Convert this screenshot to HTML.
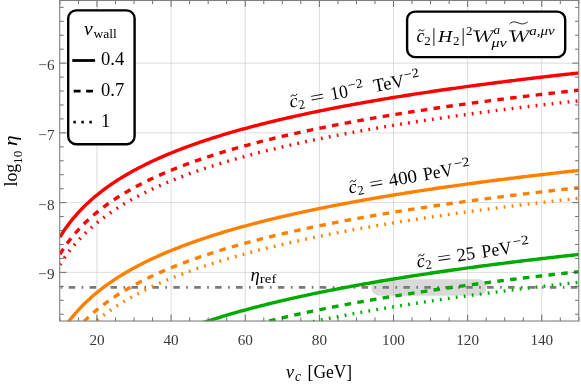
<!DOCTYPE html>
<html><head><meta charset="utf-8"><title>plot</title>
<style>
html,body{margin:0;padding:0;background:#fff;}
svg{display:block;will-change:transform;}
text{font-family:"Liberation Serif",serif;fill:#000;}
.tk{font-size:15.2px;fill:#383838;}
.it{font-style:italic;}
</style></head><body>
<svg width="581" height="389" viewBox="0 0 581 389">
<rect width="581" height="389" fill="#fff"/>
<defs><clipPath id="cp"><rect x="59.90" y="0.35" width="518.95" height="320.85"/></clipPath></defs>
<g stroke="#d0d0d0" stroke-width="0.75" fill="none"><line x1="96.97" y1="0.35" x2="96.97" y2="321.20"/><line x1="171.10" y1="0.35" x2="171.10" y2="321.20"/><line x1="245.24" y1="0.35" x2="245.24" y2="321.20"/><line x1="319.38" y1="0.35" x2="319.38" y2="321.20"/><line x1="393.51" y1="0.35" x2="393.51" y2="321.20"/><line x1="467.65" y1="0.35" x2="467.65" y2="321.20"/><line x1="541.78" y1="0.35" x2="541.78" y2="321.20"/><line x1="59.90" y1="63.13" x2="578.85" y2="63.13"/><line x1="59.90" y1="132.88" x2="578.85" y2="132.88"/><line x1="59.90" y1="202.63" x2="578.85" y2="202.63"/><line x1="59.90" y1="272.38" x2="578.85" y2="272.38"/></g>
<g clip-path="url(#cp)" fill="none">
<rect x="371.3" y="279.35" width="115.2" height="16.4" rx="8.2" ry="8.2" fill="#808080" fill-opacity="0.3"/>
<line x1="59.90" y1="287.35" x2="578.85" y2="287.35" stroke="#7a7a7a" stroke-width="2.6" stroke-dasharray="1.7 6.3 6.5 6.42" stroke-dashoffset="-0.8"/>
<path d="M59.90 237.01 L61.63 234.25 L63.36 231.61 L65.09 229.07 L66.82 226.64 L68.55 224.31 L70.28 222.06 L72.01 219.89 L73.74 217.79 L75.47 215.77 L77.20 213.81 L78.93 211.91 L80.66 210.07 L82.39 208.29 L84.12 206.55 L85.85 204.86 L87.58 203.22 L89.31 201.63 L91.04 200.07 L92.77 198.55 L94.50 197.07 L96.23 195.63 L97.96 194.22 L99.69 192.84 L101.42 191.49 L103.15 190.17 L104.88 188.88 L106.61 187.61 L108.34 186.38 L110.07 185.16 L111.80 183.97 L113.52 182.81 L115.25 181.66 L116.98 180.54 L118.71 179.43 L120.44 178.35 L122.17 177.29 L123.90 176.24 L125.63 175.21 L127.36 174.20 L129.09 173.21 L130.82 172.23 L132.55 171.27 L134.28 170.32 L136.01 169.39 L137.74 168.47 L139.47 167.56 L141.20 166.67 L142.93 165.79 L144.66 164.92 L146.39 164.07 L148.12 163.23 L149.85 162.40 L151.58 161.58 L153.31 160.77 L155.04 159.97 L156.77 159.18 L158.50 158.41 L160.23 157.64 L161.96 156.88 L163.69 156.13 L165.42 155.39 L167.15 154.66 L168.88 153.94 L170.61 153.23 L172.34 152.52 L174.07 151.82 L175.80 151.14 L177.53 150.45 L179.26 149.78 L180.99 149.11 L182.72 148.46 L184.45 147.80 L186.18 147.16 L187.91 146.52 L189.64 145.89 L191.37 145.26 L193.10 144.64 L194.83 144.03 L196.56 143.43 L198.29 142.83 L200.02 142.23 L201.75 141.64 L203.48 141.06 L205.21 140.48 L206.94 139.91 L208.67 139.34 L210.40 138.78 L212.13 138.23 L213.86 137.68 L215.59 137.13 L217.31 136.59 L219.04 136.05 L220.77 135.52 L222.50 134.99 L224.23 134.47 L225.96 133.95 L227.69 133.44 L229.42 132.93 L231.15 132.42 L232.88 131.92 L234.61 131.43 L236.34 130.93 L238.07 130.44 L239.80 129.96 L241.53 129.48 L243.26 129.00 L244.99 128.53 L246.72 128.06 L248.45 127.59 L250.18 127.13 L251.91 126.67 L253.64 126.21 L255.37 125.76 L257.10 125.31 L258.83 124.87 L260.56 124.42 L262.29 123.98 L264.02 123.55 L265.75 123.12 L267.48 122.69 L269.21 122.26 L270.94 121.83 L272.67 121.41 L274.40 121.00 L276.13 120.58 L277.86 120.17 L279.59 119.76 L281.32 119.35 L283.05 118.95 L284.78 118.55 L286.51 118.15 L288.24 117.75 L289.97 117.36 L291.70 116.97 L293.43 116.58 L295.16 116.19 L296.89 115.81 L298.62 115.43 L300.35 115.05 L302.08 114.67 L303.81 114.30 L305.54 113.93 L307.27 113.56 L309.00 113.19 L310.73 112.82 L312.46 112.46 L314.19 112.10 L315.92 111.74 L317.65 111.39 L319.38 111.03 L321.10 110.68 L322.83 110.33 L324.56 109.98 L326.29 109.63 L328.02 109.29 L329.75 108.95 L331.48 108.61 L333.21 108.27 L334.94 107.93 L336.67 107.60 L338.40 107.26 L340.13 106.93 L341.86 106.60 L343.59 106.27 L345.32 105.95 L347.05 105.62 L348.78 105.30 L350.51 104.98 L352.24 104.66 L353.97 104.35 L355.70 104.03 L357.43 103.72 L359.16 103.40 L360.89 103.09 L362.62 102.78 L364.35 102.48 L366.08 102.17 L367.81 101.86 L369.54 101.56 L371.27 101.26 L373.00 100.96 L374.73 100.66 L376.46 100.36 L378.19 100.07 L379.92 99.77 L381.65 99.48 L383.38 99.19 L385.11 98.90 L386.84 98.61 L388.57 98.32 L390.30 98.04 L392.03 97.75 L393.76 97.47 L395.49 97.19 L397.22 96.91 L398.95 96.63 L400.68 96.35 L402.41 96.07 L404.14 95.80 L405.87 95.53 L407.60 95.25 L409.33 94.98 L411.06 94.71 L412.79 94.44 L414.52 94.17 L416.25 93.91 L417.98 93.64 L419.71 93.37 L421.44 93.11 L423.17 92.85 L424.89 92.59 L426.62 92.33 L428.35 92.07 L430.08 91.81 L431.81 91.55 L433.54 91.30 L435.27 91.04 L437.00 90.79 L438.73 90.54 L440.46 90.29 L442.19 90.04 L443.92 89.79 L445.65 89.54 L447.38 89.29 L449.11 89.04 L450.84 88.80 L452.57 88.55 L454.30 88.31 L456.03 88.07 L457.76 87.83 L459.49 87.59 L461.22 87.35 L462.95 87.11 L464.68 86.87 L466.41 86.63 L468.14 86.40 L469.87 86.16 L471.60 85.93 L473.33 85.70 L475.06 85.46 L476.79 85.23 L478.52 85.00 L480.25 84.77 L481.98 84.54 L483.71 84.32 L485.44 84.09 L487.17 83.86 L488.90 83.64 L490.63 83.41 L492.36 83.19 L494.09 82.97 L495.82 82.75 L497.55 82.52 L499.28 82.30 L501.01 82.08 L502.74 81.87 L504.47 81.65 L506.20 81.43 L507.93 81.21 L509.66 81.00 L511.39 80.78 L513.12 80.57 L514.85 80.36 L516.58 80.14 L518.31 79.93 L520.04 79.72 L521.77 79.51 L523.50 79.30 L525.23 79.09 L526.96 78.88 L528.68 78.68 L530.41 78.47 L532.14 78.26 L533.87 78.06 L535.60 77.85 L537.33 77.65 L539.06 77.45 L540.79 77.24 L542.52 77.04 L544.25 76.84 L545.98 76.64 L547.71 76.44 L549.44 76.24 L551.17 76.04 L552.90 75.84 L554.63 75.64 L556.36 75.45 L558.09 75.25 L559.82 75.06 L561.55 74.86 L563.28 74.67 L565.01 74.47 L566.74 74.28 L568.47 74.09 L570.20 73.90 L571.93 73.71 L573.66 73.52 L575.39 73.33 L577.12 73.14 L578.85 72.95" stroke="#ff0000" stroke-width="3.4"/>
<path d="M59.90 254.24 L61.63 251.48 L63.36 248.83 L65.09 246.30 L66.82 243.87 L68.55 241.53 L70.28 239.28 L72.01 237.11 L73.74 235.02 L75.47 233.00 L77.20 231.04 L78.93 229.14 L80.66 227.30 L82.39 225.51 L84.12 223.78 L85.85 222.09 L87.58 220.45 L89.31 218.85 L91.04 217.30 L92.77 215.78 L94.50 214.30 L96.23 212.86 L97.96 211.44 L99.69 210.06 L101.42 208.72 L103.15 207.40 L104.88 206.11 L106.61 204.84 L108.34 203.60 L110.07 202.39 L111.80 201.20 L113.52 200.03 L115.25 198.89 L116.98 197.77 L118.71 196.66 L120.44 195.58 L122.17 194.52 L123.90 193.47 L125.63 192.44 L127.36 191.43 L129.09 190.44 L130.82 189.46 L132.55 188.49 L134.28 187.55 L136.01 186.61 L137.74 185.70 L139.47 184.79 L141.20 183.90 L142.93 183.02 L144.66 182.15 L146.39 181.30 L148.12 180.46 L149.85 179.63 L151.58 178.81 L153.31 178.00 L155.04 177.20 L156.77 176.41 L158.50 175.63 L160.23 174.87 L161.96 174.11 L163.69 173.36 L165.42 172.62 L167.15 171.89 L168.88 171.17 L170.61 170.45 L172.34 169.75 L174.07 169.05 L175.80 168.36 L177.53 167.68 L179.26 167.01 L180.99 166.34 L182.72 165.68 L184.45 165.03 L186.18 164.39 L187.91 163.75 L189.64 163.12 L191.37 162.49 L193.10 161.87 L194.83 161.26 L196.56 160.65 L198.29 160.05 L200.02 159.46 L201.75 158.87 L203.48 158.29 L205.21 157.71 L206.94 157.14 L208.67 156.57 L210.40 156.01 L212.13 155.45 L213.86 154.90 L215.59 154.36 L217.31 153.82 L219.04 153.28 L220.77 152.75 L222.50 152.22 L224.23 151.70 L225.96 151.18 L227.69 150.67 L229.42 150.16 L231.15 149.65 L232.88 149.15 L234.61 148.65 L236.34 148.16 L238.07 147.67 L239.80 147.19 L241.53 146.71 L243.26 146.23 L244.99 145.76 L246.72 145.29 L248.45 144.82 L250.18 144.36 L251.91 143.90 L253.64 143.44 L255.37 142.99 L257.10 142.54 L258.83 142.09 L260.56 141.65 L262.29 141.21 L264.02 140.78 L265.75 140.34 L267.48 139.91 L269.21 139.49 L270.94 139.06 L272.67 138.64 L274.40 138.22 L276.13 137.81 L277.86 137.40 L279.59 136.99 L281.32 136.58 L283.05 136.18 L284.78 135.77 L286.51 135.38 L288.24 134.98 L289.97 134.59 L291.70 134.19 L293.43 133.81 L295.16 133.42 L296.89 133.04 L298.62 132.66 L300.35 132.28 L302.08 131.90 L303.81 131.53 L305.54 131.15 L307.27 130.78 L309.00 130.42 L310.73 130.05 L312.46 129.69 L314.19 129.33 L315.92 128.97 L317.65 128.61 L319.38 128.26 L321.10 127.91 L322.83 127.56 L324.56 127.21 L326.29 126.86 L328.02 126.52 L329.75 126.17 L331.48 125.83 L333.21 125.50 L334.94 125.16 L336.67 124.82 L338.40 124.49 L340.13 124.16 L341.86 123.83 L343.59 123.50 L345.32 123.18 L347.05 122.85 L348.78 122.53 L350.51 122.21 L352.24 121.89 L353.97 121.57 L355.70 121.26 L357.43 120.94 L359.16 120.63 L360.89 120.32 L362.62 120.01 L364.35 119.70 L366.08 119.40 L367.81 119.09 L369.54 118.79 L371.27 118.49 L373.00 118.19 L374.73 117.89 L376.46 117.59 L378.19 117.30 L379.92 117.00 L381.65 116.71 L383.38 116.42 L385.11 116.13 L386.84 115.84 L388.57 115.55 L390.30 115.27 L392.03 114.98 L393.76 114.70 L395.49 114.42 L397.22 114.14 L398.95 113.86 L400.68 113.58 L402.41 113.30 L404.14 113.03 L405.87 112.75 L407.60 112.48 L409.33 112.21 L411.06 111.94 L412.79 111.67 L414.52 111.40 L416.25 111.13 L417.98 110.87 L419.71 110.60 L421.44 110.34 L423.17 110.08 L424.89 109.82 L426.62 109.56 L428.35 109.30 L430.08 109.04 L431.81 108.78 L433.54 108.53 L435.27 108.27 L437.00 108.02 L438.73 107.77 L440.46 107.51 L442.19 107.26 L443.92 107.01 L445.65 106.77 L447.38 106.52 L449.11 106.27 L450.84 106.03 L452.57 105.78 L454.30 105.54 L456.03 105.30 L457.76 105.06 L459.49 104.82 L461.22 104.58 L462.95 104.34 L464.68 104.10 L466.41 103.86 L468.14 103.63 L469.87 103.39 L471.60 103.16 L473.33 102.92 L475.06 102.69 L476.79 102.46 L478.52 102.23 L480.25 102.00 L481.98 101.77 L483.71 101.55 L485.44 101.32 L487.17 101.09 L488.90 100.87 L490.63 100.64 L492.36 100.42 L494.09 100.20 L495.82 99.97 L497.55 99.75 L499.28 99.53 L501.01 99.31 L502.74 99.09 L504.47 98.88 L506.20 98.66 L507.93 98.44 L509.66 98.23 L511.39 98.01 L513.12 97.80 L514.85 97.58 L516.58 97.37 L518.31 97.16 L520.04 96.95 L521.77 96.74 L523.50 96.53 L525.23 96.32 L526.96 96.11 L528.68 95.90 L530.41 95.70 L532.14 95.49 L533.87 95.29 L535.60 95.08 L537.33 94.88 L539.06 94.67 L540.79 94.47 L542.52 94.27 L544.25 94.07 L545.98 93.87 L547.71 93.67 L549.44 93.47 L551.17 93.27 L552.90 93.07 L554.63 92.87 L556.36 92.68 L558.09 92.48 L559.82 92.28 L561.55 92.09 L563.28 91.90 L565.01 91.70 L566.74 91.51 L568.47 91.32 L570.20 91.13 L571.93 90.93 L573.66 90.74 L575.39 90.55 L577.12 90.36 L578.85 90.18" stroke="#ff0000" stroke-width="3.4" stroke-dasharray="6.55 6.325"/>
<path d="M59.90 264.84 L61.63 262.08 L63.36 259.44 L65.09 256.90 L66.82 254.47 L68.55 252.14 L70.28 249.89 L72.01 247.72 L73.74 245.62 L75.47 243.60 L77.20 241.64 L78.93 239.74 L80.66 237.90 L82.39 236.12 L84.12 234.38 L85.85 232.69 L87.58 231.05 L89.31 229.46 L91.04 227.90 L92.77 226.38 L94.50 224.90 L96.23 223.46 L97.96 222.05 L99.69 220.67 L101.42 219.32 L103.15 218.00 L104.88 216.71 L106.61 215.44 L108.34 214.21 L110.07 212.99 L111.80 211.80 L113.52 210.64 L115.25 209.49 L116.98 208.37 L118.71 207.26 L120.44 206.18 L122.17 205.12 L123.90 204.07 L125.63 203.04 L127.36 202.03 L129.09 201.04 L130.82 200.06 L132.55 199.10 L134.28 198.15 L136.01 197.22 L137.74 196.30 L139.47 195.39 L141.20 194.50 L142.93 193.62 L144.66 192.75 L146.39 191.90 L148.12 191.06 L149.85 190.23 L151.58 189.41 L153.31 188.60 L155.04 187.80 L156.77 187.01 L158.50 186.24 L160.23 185.47 L161.96 184.71 L163.69 183.96 L165.42 183.22 L167.15 182.49 L168.88 181.77 L170.61 181.06 L172.34 180.35 L174.07 179.65 L175.80 178.97 L177.53 178.28 L179.26 177.61 L180.99 176.94 L182.72 176.29 L184.45 175.63 L186.18 174.99 L187.91 174.35 L189.64 173.72 L191.37 173.09 L193.10 172.48 L194.83 171.86 L196.56 171.26 L198.29 170.66 L200.02 170.06 L201.75 169.47 L203.48 168.89 L205.21 168.31 L206.94 167.74 L208.67 167.17 L210.40 166.61 L212.13 166.06 L213.86 165.51 L215.59 164.96 L217.31 164.42 L219.04 163.88 L220.77 163.35 L222.50 162.82 L224.23 162.30 L225.96 161.78 L227.69 161.27 L229.42 160.76 L231.15 160.25 L232.88 159.75 L234.61 159.26 L236.34 158.76 L238.07 158.27 L239.80 157.79 L241.53 157.31 L243.26 156.83 L244.99 156.36 L246.72 155.89 L248.45 155.42 L250.18 154.96 L251.91 154.50 L253.64 154.04 L255.37 153.59 L257.10 153.14 L258.83 152.70 L260.56 152.25 L262.29 151.81 L264.02 151.38 L265.75 150.95 L267.48 150.52 L269.21 150.09 L270.94 149.66 L272.67 149.24 L274.40 148.83 L276.13 148.41 L277.86 148.00 L279.59 147.59 L281.32 147.18 L283.05 146.78 L284.78 146.38 L286.51 145.98 L288.24 145.58 L289.97 145.19 L291.70 144.80 L293.43 144.41 L295.16 144.02 L296.89 143.64 L298.62 143.26 L300.35 142.88 L302.08 142.50 L303.81 142.13 L305.54 141.76 L307.27 141.39 L309.00 141.02 L310.73 140.65 L312.46 140.29 L314.19 139.93 L315.92 139.57 L317.65 139.22 L319.38 138.86 L321.10 138.51 L322.83 138.16 L324.56 137.81 L326.29 137.46 L328.02 137.12 L329.75 136.78 L331.48 136.44 L333.21 136.10 L334.94 135.76 L336.67 135.43 L338.40 135.09 L340.13 134.76 L341.86 134.43 L343.59 134.10 L345.32 133.78 L347.05 133.45 L348.78 133.13 L350.51 132.81 L352.24 132.49 L353.97 132.18 L355.70 131.86 L357.43 131.55 L359.16 131.23 L360.89 130.92 L362.62 130.61 L364.35 130.31 L366.08 130.00 L367.81 129.70 L369.54 129.39 L371.27 129.09 L373.00 128.79 L374.73 128.49 L376.46 128.20 L378.19 127.90 L379.92 127.61 L381.65 127.31 L383.38 127.02 L385.11 126.73 L386.84 126.44 L388.57 126.16 L390.30 125.87 L392.03 125.58 L393.76 125.30 L395.49 125.02 L397.22 124.74 L398.95 124.46 L400.68 124.18 L402.41 123.91 L404.14 123.63 L405.87 123.36 L407.60 123.08 L409.33 122.81 L411.06 122.54 L412.79 122.27 L414.52 122.00 L416.25 121.74 L417.98 121.47 L419.71 121.21 L421.44 120.94 L423.17 120.68 L424.89 120.42 L426.62 120.16 L428.35 119.90 L430.08 119.64 L431.81 119.38 L433.54 119.13 L435.27 118.87 L437.00 118.62 L438.73 118.37 L440.46 118.12 L442.19 117.87 L443.92 117.62 L445.65 117.37 L447.38 117.12 L449.11 116.87 L450.84 116.63 L452.57 116.38 L454.30 116.14 L456.03 115.90 L457.76 115.66 L459.49 115.42 L461.22 115.18 L462.95 114.94 L464.68 114.70 L466.41 114.46 L468.14 114.23 L469.87 113.99 L471.60 113.76 L473.33 113.53 L475.06 113.29 L476.79 113.06 L478.52 112.83 L480.25 112.60 L481.98 112.37 L483.71 112.15 L485.44 111.92 L487.17 111.69 L488.90 111.47 L490.63 111.24 L492.36 111.02 L494.09 110.80 L495.82 110.58 L497.55 110.35 L499.28 110.13 L501.01 109.91 L502.74 109.70 L504.47 109.48 L506.20 109.26 L507.93 109.04 L509.66 108.83 L511.39 108.61 L513.12 108.40 L514.85 108.19 L516.58 107.97 L518.31 107.76 L520.04 107.55 L521.77 107.34 L523.50 107.13 L525.23 106.92 L526.96 106.71 L528.68 106.51 L530.41 106.30 L532.14 106.09 L533.87 105.89 L535.60 105.68 L537.33 105.48 L539.06 105.28 L540.79 105.07 L542.52 104.87 L544.25 104.67 L545.98 104.47 L547.71 104.27 L549.44 104.07 L551.17 103.87 L552.90 103.67 L554.63 103.48 L556.36 103.28 L558.09 103.08 L559.82 102.89 L561.55 102.69 L563.28 102.50 L565.01 102.30 L566.74 102.11 L568.47 101.92 L570.20 101.73 L571.93 101.54 L573.66 101.35 L575.39 101.16 L577.12 100.97 L578.85 100.78" stroke="#ff0000" stroke-width="3.4" stroke-dasharray="1.8 6.246"/>
<path d="M59.90 334.52 L61.63 331.75 L63.36 329.11 L65.09 326.58 L66.82 324.15 L68.55 321.81 L70.28 319.56 L72.01 317.39 L73.74 315.30 L75.47 313.27 L77.20 311.31 L78.93 309.42 L80.66 307.58 L82.39 305.79 L84.12 304.06 L85.85 302.37 L87.58 300.73 L89.31 299.13 L91.04 297.58 L92.77 296.06 L94.50 294.58 L96.23 293.13 L97.96 291.72 L99.69 290.34 L101.42 288.99 L103.15 287.68 L104.88 286.38 L106.61 285.12 L108.34 283.88 L110.07 282.67 L111.80 281.48 L113.52 280.31 L115.25 279.17 L116.98 278.04 L118.71 276.94 L120.44 275.86 L122.17 274.79 L123.90 273.75 L125.63 272.72 L127.36 271.71 L129.09 270.71 L130.82 269.74 L132.55 268.77 L134.28 267.83 L136.01 266.89 L137.74 265.97 L139.47 265.07 L141.20 264.18 L142.93 263.30 L144.66 262.43 L146.39 261.58 L148.12 260.73 L149.85 259.90 L151.58 259.08 L153.31 258.28 L155.04 257.48 L156.77 256.69 L158.50 255.91 L160.23 255.14 L161.96 254.39 L163.69 253.64 L165.42 252.90 L167.15 252.17 L168.88 251.45 L170.61 250.73 L172.34 250.03 L174.07 249.33 L175.80 248.64 L177.53 247.96 L179.26 247.29 L180.99 246.62 L182.72 245.96 L184.45 245.31 L186.18 244.66 L187.91 244.03 L189.64 243.39 L191.37 242.77 L193.10 242.15 L194.83 241.54 L196.56 240.93 L198.29 240.33 L200.02 239.74 L201.75 239.15 L203.48 238.57 L205.21 237.99 L206.94 237.42 L208.67 236.85 L210.40 236.29 L212.13 235.73 L213.86 235.18 L215.59 234.64 L217.31 234.09 L219.04 233.56 L220.77 233.03 L222.50 232.50 L224.23 231.98 L225.96 231.46 L227.69 230.94 L229.42 230.44 L231.15 229.93 L232.88 229.43 L234.61 228.93 L236.34 228.44 L238.07 227.95 L239.80 227.47 L241.53 226.98 L243.26 226.51 L244.99 226.03 L246.72 225.56 L248.45 225.10 L250.18 224.63 L251.91 224.18 L253.64 223.72 L255.37 223.27 L257.10 222.82 L258.83 222.37 L260.56 221.93 L262.29 221.49 L264.02 221.05 L265.75 220.62 L267.48 220.19 L269.21 219.76 L270.94 219.34 L272.67 218.92 L274.40 218.50 L276.13 218.09 L277.86 217.67 L279.59 217.26 L281.32 216.86 L283.05 216.45 L284.78 216.05 L286.51 215.65 L288.24 215.26 L289.97 214.86 L291.70 214.47 L293.43 214.08 L295.16 213.70 L296.89 213.31 L298.62 212.93 L300.35 212.55 L302.08 212.18 L303.81 211.80 L305.54 211.43 L307.27 211.06 L309.00 210.70 L310.73 210.33 L312.46 209.97 L314.19 209.61 L315.92 209.25 L317.65 208.89 L319.38 208.54 L321.10 208.18 L322.83 207.83 L324.56 207.49 L326.29 207.14 L328.02 206.80 L329.75 206.45 L331.48 206.11 L333.21 205.77 L334.94 205.44 L336.67 205.10 L338.40 204.77 L340.13 204.44 L341.86 204.11 L343.59 203.78 L345.32 203.46 L347.05 203.13 L348.78 202.81 L350.51 202.49 L352.24 202.17 L353.97 201.85 L355.70 201.54 L357.43 201.22 L359.16 200.91 L360.89 200.60 L362.62 200.29 L364.35 199.98 L366.08 199.68 L367.81 199.37 L369.54 199.07 L371.27 198.77 L373.00 198.47 L374.73 198.17 L376.46 197.87 L378.19 197.58 L379.92 197.28 L381.65 196.99 L383.38 196.70 L385.11 196.41 L386.84 196.12 L388.57 195.83 L390.30 195.55 L392.03 195.26 L393.76 194.98 L395.49 194.70 L397.22 194.42 L398.95 194.14 L400.68 193.86 L402.41 193.58 L404.14 193.31 L405.87 193.03 L407.60 192.76 L409.33 192.49 L411.06 192.22 L412.79 191.95 L414.52 191.68 L416.25 191.41 L417.98 191.15 L419.71 190.88 L421.44 190.62 L423.17 190.36 L424.89 190.09 L426.62 189.83 L428.35 189.58 L430.08 189.32 L431.81 189.06 L433.54 188.80 L435.27 188.55 L437.00 188.30 L438.73 188.04 L440.46 187.79 L442.19 187.54 L443.92 187.29 L445.65 187.04 L447.38 186.80 L449.11 186.55 L450.84 186.31 L452.57 186.06 L454.30 185.82 L456.03 185.58 L457.76 185.33 L459.49 185.09 L461.22 184.85 L462.95 184.62 L464.68 184.38 L466.41 184.14 L468.14 183.91 L469.87 183.67 L471.60 183.44 L473.33 183.20 L475.06 182.97 L476.79 182.74 L478.52 182.51 L480.25 182.28 L481.98 182.05 L483.71 181.82 L485.44 181.60 L487.17 181.37 L488.90 181.14 L490.63 180.92 L492.36 180.70 L494.09 180.47 L495.82 180.25 L497.55 180.03 L499.28 179.81 L501.01 179.59 L502.74 179.37 L504.47 179.15 L506.20 178.94 L507.93 178.72 L509.66 178.50 L511.39 178.29 L513.12 178.08 L514.85 177.86 L516.58 177.65 L518.31 177.44 L520.04 177.23 L521.77 177.02 L523.50 176.81 L525.23 176.60 L526.96 176.39 L528.68 176.18 L530.41 175.98 L532.14 175.77 L533.87 175.56 L535.60 175.36 L537.33 175.15 L539.06 174.95 L540.79 174.75 L542.52 174.55 L544.25 174.35 L545.98 174.14 L547.71 173.94 L549.44 173.75 L551.17 173.55 L552.90 173.35 L554.63 173.15 L556.36 172.95 L558.09 172.76 L559.82 172.56 L561.55 172.37 L563.28 172.17 L565.01 171.98 L566.74 171.79 L568.47 171.59 L570.20 171.40 L571.93 171.21 L573.66 171.02 L575.39 170.83 L577.12 170.64 L578.85 170.45" stroke="#ff8000" stroke-width="3.4"/>
<path d="M59.90 351.75 L61.63 348.98 L63.36 346.34 L65.09 343.81 L66.82 341.38 L68.55 339.04 L70.28 336.79 L72.01 334.62 L73.74 332.53 L75.47 330.50 L77.20 328.54 L78.93 326.65 L80.66 324.81 L82.39 323.02 L84.12 321.29 L85.85 319.60 L87.58 317.96 L89.31 316.36 L91.04 314.80 L92.77 313.29 L94.50 311.81 L96.23 310.36 L97.96 308.95 L99.69 307.57 L101.42 306.22 L103.15 304.90 L104.88 303.61 L106.61 302.35 L108.34 301.11 L110.07 299.90 L111.80 298.71 L113.52 297.54 L115.25 296.40 L116.98 295.27 L118.71 294.17 L120.44 293.09 L122.17 292.02 L123.90 290.98 L125.63 289.95 L127.36 288.94 L129.09 287.94 L130.82 286.96 L132.55 286.00 L134.28 285.05 L136.01 284.12 L137.74 283.20 L139.47 282.30 L141.20 281.40 L142.93 280.53 L144.66 279.66 L146.39 278.80 L148.12 277.96 L149.85 277.13 L151.58 276.31 L153.31 275.50 L155.04 274.71 L156.77 273.92 L158.50 273.14 L160.23 272.37 L161.96 271.62 L163.69 270.87 L165.42 270.13 L167.15 269.40 L168.88 268.67 L170.61 267.96 L172.34 267.26 L174.07 266.56 L175.80 265.87 L177.53 265.19 L179.26 264.52 L180.99 263.85 L182.72 263.19 L184.45 262.54 L186.18 261.89 L187.91 261.25 L189.64 260.62 L191.37 260.00 L193.10 259.38 L194.83 258.77 L196.56 258.16 L198.29 257.56 L200.02 256.97 L201.75 256.38 L203.48 255.79 L205.21 255.22 L206.94 254.65 L208.67 254.08 L210.40 253.52 L212.13 252.96 L213.86 252.41 L215.59 251.86 L217.31 251.32 L219.04 250.79 L220.77 250.25 L222.50 249.73 L224.23 249.20 L225.96 248.69 L227.69 248.17 L229.42 247.66 L231.15 247.16 L232.88 246.66 L234.61 246.16 L236.34 245.67 L238.07 245.18 L239.80 244.69 L241.53 244.21 L243.26 243.74 L244.99 243.26 L246.72 242.79 L248.45 242.33 L250.18 241.86 L251.91 241.40 L253.64 240.95 L255.37 240.50 L257.10 240.05 L258.83 239.60 L260.56 239.16 L262.29 238.72 L264.02 238.28 L265.75 237.85 L267.48 237.42 L269.21 236.99 L270.94 236.57 L272.67 236.15 L274.40 235.73 L276.13 235.32 L277.86 234.90 L279.59 234.49 L281.32 234.09 L283.05 233.68 L284.78 233.28 L286.51 232.88 L288.24 232.49 L289.97 232.09 L291.70 231.70 L293.43 231.31 L295.16 230.93 L296.89 230.54 L298.62 230.16 L300.35 229.78 L302.08 229.41 L303.81 229.03 L305.54 228.66 L307.27 228.29 L309.00 227.92 L310.73 227.56 L312.46 227.20 L314.19 226.83 L315.92 226.48 L317.65 226.12 L319.38 225.77 L321.10 225.41 L322.83 225.06 L324.56 224.71 L326.29 224.37 L328.02 224.02 L329.75 223.68 L331.48 223.34 L333.21 223.00 L334.94 222.67 L336.67 222.33 L338.40 222.00 L340.13 221.67 L341.86 221.34 L343.59 221.01 L345.32 220.68 L347.05 220.36 L348.78 220.04 L350.51 219.72 L352.24 219.40 L353.97 219.08 L355.70 218.76 L357.43 218.45 L359.16 218.14 L360.89 217.83 L362.62 217.52 L364.35 217.21 L366.08 216.90 L367.81 216.60 L369.54 216.30 L371.27 215.99 L373.00 215.69 L374.73 215.40 L376.46 215.10 L378.19 214.80 L379.92 214.51 L381.65 214.22 L383.38 213.93 L385.11 213.64 L386.84 213.35 L388.57 213.06 L390.30 212.77 L392.03 212.49 L393.76 212.21 L395.49 211.92 L397.22 211.64 L398.95 211.36 L400.68 211.09 L402.41 210.81 L404.14 210.53 L405.87 210.26 L407.60 209.99 L409.33 209.72 L411.06 209.44 L412.79 209.18 L414.52 208.91 L416.25 208.64 L417.98 208.37 L419.71 208.11 L421.44 207.85 L423.17 207.58 L424.89 207.32 L426.62 207.06 L428.35 206.80 L430.08 206.55 L431.81 206.29 L433.54 206.03 L435.27 205.78 L437.00 205.52 L438.73 205.27 L440.46 205.02 L442.19 204.77 L443.92 204.52 L445.65 204.27 L447.38 204.03 L449.11 203.78 L450.84 203.53 L452.57 203.29 L454.30 203.05 L456.03 202.80 L457.76 202.56 L459.49 202.32 L461.22 202.08 L462.95 201.84 L464.68 201.61 L466.41 201.37 L468.14 201.13 L469.87 200.90 L471.60 200.66 L473.33 200.43 L475.06 200.20 L476.79 199.97 L478.52 199.74 L480.25 199.51 L481.98 199.28 L483.71 199.05 L485.44 198.82 L487.17 198.60 L488.90 198.37 L490.63 198.15 L492.36 197.92 L494.09 197.70 L495.82 197.48 L497.55 197.26 L499.28 197.04 L501.01 196.82 L502.74 196.60 L504.47 196.38 L506.20 196.17 L507.93 195.95 L509.66 195.73 L511.39 195.52 L513.12 195.30 L514.85 195.09 L516.58 194.88 L518.31 194.67 L520.04 194.45 L521.77 194.24 L523.50 194.03 L525.23 193.83 L526.96 193.62 L528.68 193.41 L530.41 193.20 L532.14 193.00 L533.87 192.79 L535.60 192.59 L537.33 192.38 L539.06 192.18 L540.79 191.98 L542.52 191.77 L544.25 191.57 L545.98 191.37 L547.71 191.17 L549.44 190.97 L551.17 190.77 L552.90 190.58 L554.63 190.38 L556.36 190.18 L558.09 189.99 L559.82 189.79 L561.55 189.60 L563.28 189.40 L565.01 189.21 L566.74 189.02 L568.47 188.82 L570.20 188.63 L571.93 188.44 L573.66 188.25 L575.39 188.06 L577.12 187.87 L578.85 187.68" stroke="#ff8000" stroke-width="3.4" stroke-dasharray="6.55 6.325"/>
<path d="M59.90 362.35 L61.63 359.59 L63.36 356.94 L65.09 354.41 L66.82 351.98 L68.55 349.64 L70.28 347.39 L72.01 345.22 L73.74 343.13 L75.47 341.10 L77.20 339.15 L78.93 337.25 L80.66 335.41 L82.39 333.62 L84.12 331.89 L85.85 330.20 L87.58 328.56 L89.31 326.96 L91.04 325.41 L92.77 323.89 L94.50 322.41 L96.23 320.96 L97.96 319.55 L99.69 318.17 L101.42 316.82 L103.15 315.51 L104.88 314.21 L106.61 312.95 L108.34 311.71 L110.07 310.50 L111.80 309.31 L113.52 308.14 L115.25 307.00 L116.98 305.87 L118.71 304.77 L120.44 303.69 L122.17 302.62 L123.90 301.58 L125.63 300.55 L127.36 299.54 L129.09 298.54 L130.82 297.57 L132.55 296.60 L134.28 295.66 L136.01 294.72 L137.74 293.80 L139.47 292.90 L141.20 292.01 L142.93 291.13 L144.66 290.26 L146.39 289.41 L148.12 288.56 L149.85 287.73 L151.58 286.91 L153.31 286.11 L155.04 285.31 L156.77 284.52 L158.50 283.74 L160.23 282.98 L161.96 282.22 L163.69 281.47 L165.42 280.73 L167.15 280.00 L168.88 279.28 L170.61 278.56 L172.34 277.86 L174.07 277.16 L175.80 276.47 L177.53 275.79 L179.26 275.12 L180.99 274.45 L182.72 273.79 L184.45 273.14 L186.18 272.49 L187.91 271.86 L189.64 271.23 L191.37 270.60 L193.10 269.98 L194.83 269.37 L196.56 268.76 L198.29 268.16 L200.02 267.57 L201.75 266.98 L203.48 266.40 L205.21 265.82 L206.94 265.25 L208.67 264.68 L210.40 264.12 L212.13 263.56 L213.86 263.01 L215.59 262.47 L217.31 261.92 L219.04 261.39 L220.77 260.86 L222.50 260.33 L224.23 259.81 L225.96 259.29 L227.69 258.77 L229.42 258.27 L231.15 257.76 L232.88 257.26 L234.61 256.76 L236.34 256.27 L238.07 255.78 L239.80 255.30 L241.53 254.81 L243.26 254.34 L244.99 253.86 L246.72 253.39 L248.45 252.93 L250.18 252.46 L251.91 252.01 L253.64 251.55 L255.37 251.10 L257.10 250.65 L258.83 250.20 L260.56 249.76 L262.29 249.32 L264.02 248.88 L265.75 248.45 L267.48 248.02 L269.21 247.60 L270.94 247.17 L272.67 246.75 L274.40 246.33 L276.13 245.92 L277.86 245.50 L279.59 245.10 L281.32 244.69 L283.05 244.28 L284.78 243.88 L286.51 243.48 L288.24 243.09 L289.97 242.69 L291.70 242.30 L293.43 241.91 L295.16 241.53 L296.89 241.15 L298.62 240.76 L300.35 240.39 L302.08 240.01 L303.81 239.63 L305.54 239.26 L307.27 238.89 L309.00 238.53 L310.73 238.16 L312.46 237.80 L314.19 237.44 L315.92 237.08 L317.65 236.72 L319.38 236.37 L321.10 236.01 L322.83 235.66 L324.56 235.32 L326.29 234.97 L328.02 234.63 L329.75 234.28 L331.48 233.94 L333.21 233.60 L334.94 233.27 L336.67 232.93 L338.40 232.60 L340.13 232.27 L341.86 231.94 L343.59 231.61 L345.32 231.29 L347.05 230.96 L348.78 230.64 L350.51 230.32 L352.24 230.00 L353.97 229.68 L355.70 229.37 L357.43 229.05 L359.16 228.74 L360.89 228.43 L362.62 228.12 L364.35 227.81 L366.08 227.51 L367.81 227.20 L369.54 226.90 L371.27 226.60 L373.00 226.30 L374.73 226.00 L376.46 225.70 L378.19 225.41 L379.92 225.11 L381.65 224.82 L383.38 224.53 L385.11 224.24 L386.84 223.95 L388.57 223.66 L390.30 223.38 L392.03 223.09 L393.76 222.81 L395.49 222.53 L397.22 222.25 L398.95 221.97 L400.68 221.69 L402.41 221.41 L404.14 221.14 L405.87 220.86 L407.60 220.59 L409.33 220.32 L411.06 220.05 L412.79 219.78 L414.52 219.51 L416.25 219.24 L417.98 218.98 L419.71 218.71 L421.44 218.45 L423.17 218.19 L424.89 217.92 L426.62 217.66 L428.35 217.41 L430.08 217.15 L431.81 216.89 L433.54 216.64 L435.27 216.38 L437.00 216.13 L438.73 215.87 L440.46 215.62 L442.19 215.37 L443.92 215.12 L445.65 214.87 L447.38 214.63 L449.11 214.38 L450.84 214.14 L452.57 213.89 L454.30 213.65 L456.03 213.41 L457.76 213.16 L459.49 212.92 L461.22 212.68 L462.95 212.45 L464.68 212.21 L466.41 211.97 L468.14 211.74 L469.87 211.50 L471.60 211.27 L473.33 211.03 L475.06 210.80 L476.79 210.57 L478.52 210.34 L480.25 210.11 L481.98 209.88 L483.71 209.65 L485.44 209.43 L487.17 209.20 L488.90 208.97 L490.63 208.75 L492.36 208.53 L494.09 208.30 L495.82 208.08 L497.55 207.86 L499.28 207.64 L501.01 207.42 L502.74 207.20 L504.47 206.98 L506.20 206.77 L507.93 206.55 L509.66 206.34 L511.39 206.12 L513.12 205.91 L514.85 205.69 L516.58 205.48 L518.31 205.27 L520.04 205.06 L521.77 204.85 L523.50 204.64 L525.23 204.43 L526.96 204.22 L528.68 204.01 L530.41 203.81 L532.14 203.60 L533.87 203.39 L535.60 203.19 L537.33 202.98 L539.06 202.78 L540.79 202.58 L542.52 202.38 L544.25 202.18 L545.98 201.97 L547.71 201.77 L549.44 201.58 L551.17 201.38 L552.90 201.18 L554.63 200.98 L556.36 200.78 L558.09 200.59 L559.82 200.39 L561.55 200.20 L563.28 200.00 L565.01 199.81 L566.74 199.62 L568.47 199.43 L570.20 199.23 L571.93 199.04 L573.66 198.85 L575.39 198.66 L577.12 198.47 L578.85 198.28" stroke="#ff8000" stroke-width="3.4" stroke-dasharray="1.8 6.246"/>
<path d="M59.90 418.51 L61.63 415.74 L63.36 413.10 L65.09 410.57 L66.82 408.14 L68.55 405.80 L70.28 403.55 L72.01 401.38 L73.74 399.29 L75.47 397.26 L77.20 395.30 L78.93 393.40 L80.66 391.56 L82.39 389.78 L84.12 388.04 L85.85 386.36 L87.58 384.72 L89.31 383.12 L91.04 381.56 L92.77 380.05 L94.50 378.57 L96.23 377.12 L97.96 375.71 L99.69 374.33 L101.42 372.98 L103.15 371.66 L104.88 370.37 L106.61 369.11 L108.34 367.87 L110.07 366.66 L111.80 365.47 L113.52 364.30 L115.25 363.15 L116.98 362.03 L118.71 360.93 L120.44 359.84 L122.17 358.78 L123.90 357.73 L125.63 356.71 L127.36 355.70 L129.09 354.70 L130.82 353.72 L132.55 352.76 L134.28 351.81 L136.01 350.88 L137.74 349.96 L139.47 349.06 L141.20 348.16 L142.93 347.28 L144.66 346.42 L146.39 345.56 L148.12 344.72 L149.85 343.89 L151.58 343.07 L153.31 342.26 L155.04 341.46 L156.77 340.68 L158.50 339.90 L160.23 339.13 L161.96 338.37 L163.69 337.63 L165.42 336.89 L167.15 336.16 L168.88 335.43 L170.61 334.72 L172.34 334.02 L174.07 333.32 L175.80 332.63 L177.53 331.95 L179.26 331.27 L180.99 330.61 L182.72 329.95 L184.45 329.30 L186.18 328.65 L187.91 328.01 L189.64 327.38 L191.37 326.76 L193.10 326.14 L194.83 325.53 L196.56 324.92 L198.29 324.32 L200.02 323.73 L201.75 323.14 L203.48 322.55 L205.21 321.98 L206.94 321.40 L208.67 320.84 L210.40 320.28 L212.13 319.72 L213.86 319.17 L215.59 318.62 L217.31 318.08 L219.04 317.55 L220.77 317.01 L222.50 316.49 L224.23 315.96 L225.96 315.45 L227.69 314.93 L229.42 314.42 L231.15 313.92 L232.88 313.42 L234.61 312.92 L236.34 312.43 L238.07 311.94 L239.80 311.45 L241.53 310.97 L243.26 310.49 L244.99 310.02 L246.72 309.55 L248.45 309.08 L250.18 308.62 L251.91 308.16 L253.64 307.71 L255.37 307.25 L257.10 306.81 L258.83 306.36 L260.56 305.92 L262.29 305.48 L264.02 305.04 L265.75 304.61 L267.48 304.18 L269.21 303.75 L270.94 303.33 L272.67 302.91 L274.40 302.49 L276.13 302.07 L277.86 301.66 L279.59 301.25 L281.32 300.85 L283.05 300.44 L284.78 300.04 L286.51 299.64 L288.24 299.25 L289.97 298.85 L291.70 298.46 L293.43 298.07 L295.16 297.69 L296.89 297.30 L298.62 296.92 L300.35 296.54 L302.08 296.17 L303.81 295.79 L305.54 295.42 L307.27 295.05 L309.00 294.68 L310.73 294.32 L312.46 293.95 L314.19 293.59 L315.92 293.24 L317.65 292.88 L319.38 292.52 L321.10 292.17 L322.83 291.82 L324.56 291.47 L326.29 291.13 L328.02 290.78 L329.75 290.44 L331.48 290.10 L333.21 289.76 L334.94 289.42 L336.67 289.09 L338.40 288.76 L340.13 288.43 L341.86 288.10 L343.59 287.77 L345.32 287.44 L347.05 287.12 L348.78 286.80 L350.51 286.48 L352.24 286.16 L353.97 285.84 L355.70 285.52 L357.43 285.21 L359.16 284.90 L360.89 284.59 L362.62 284.28 L364.35 283.97 L366.08 283.66 L367.81 283.36 L369.54 283.06 L371.27 282.75 L373.00 282.45 L374.73 282.16 L376.46 281.86 L378.19 281.56 L379.92 281.27 L381.65 280.98 L383.38 280.68 L385.11 280.39 L386.84 280.11 L388.57 279.82 L390.30 279.53 L392.03 279.25 L393.76 278.97 L395.49 278.68 L397.22 278.40 L398.95 278.12 L400.68 277.85 L402.41 277.57 L404.14 277.29 L405.87 277.02 L407.60 276.75 L409.33 276.47 L411.06 276.20 L412.79 275.93 L414.52 275.67 L416.25 275.40 L417.98 275.13 L419.71 274.87 L421.44 274.61 L423.17 274.34 L424.89 274.08 L426.62 273.82 L428.35 273.56 L430.08 273.30 L431.81 273.05 L433.54 272.79 L435.27 272.54 L437.00 272.28 L438.73 272.03 L440.46 271.78 L442.19 271.53 L443.92 271.28 L445.65 271.03 L447.38 270.78 L449.11 270.54 L450.84 270.29 L452.57 270.05 L454.30 269.80 L456.03 269.56 L457.76 269.32 L459.49 269.08 L461.22 268.84 L462.95 268.60 L464.68 268.36 L466.41 268.13 L468.14 267.89 L469.87 267.66 L471.60 267.42 L473.33 267.19 L475.06 266.96 L476.79 266.73 L478.52 266.50 L480.25 266.27 L481.98 266.04 L483.71 265.81 L485.44 265.58 L487.17 265.36 L488.90 265.13 L490.63 264.91 L492.36 264.68 L494.09 264.46 L495.82 264.24 L497.55 264.02 L499.28 263.80 L501.01 263.58 L502.74 263.36 L504.47 263.14 L506.20 262.92 L507.93 262.71 L509.66 262.49 L511.39 262.28 L513.12 262.06 L514.85 261.85 L516.58 261.64 L518.31 261.43 L520.04 261.21 L521.77 261.00 L523.50 260.79 L525.23 260.59 L526.96 260.38 L528.68 260.17 L530.41 259.96 L532.14 259.76 L533.87 259.55 L535.60 259.35 L537.33 259.14 L539.06 258.94 L540.79 258.74 L542.52 258.53 L544.25 258.33 L545.98 258.13 L547.71 257.93 L549.44 257.73 L551.17 257.53 L552.90 257.34 L554.63 257.14 L556.36 256.94 L558.09 256.75 L559.82 256.55 L561.55 256.36 L563.28 256.16 L565.01 255.97 L566.74 255.77 L568.47 255.58 L570.20 255.39 L571.93 255.20 L573.66 255.01 L575.39 254.82 L577.12 254.63 L578.85 254.44" stroke="#00aa00" stroke-width="3.4"/>
<path d="M59.90 435.73 L61.63 432.97 L63.36 430.33 L65.09 427.80 L66.82 425.36 L68.55 423.03 L70.28 420.78 L72.01 418.61 L73.74 416.51 L75.47 414.49 L77.20 412.53 L78.93 410.63 L80.66 408.79 L82.39 407.01 L84.12 405.27 L85.85 403.59 L87.58 401.95 L89.31 400.35 L91.04 398.79 L92.77 397.27 L94.50 395.79 L96.23 394.35 L97.96 392.94 L99.69 391.56 L101.42 390.21 L103.15 388.89 L104.88 387.60 L106.61 386.34 L108.34 385.10 L110.07 383.88 L111.80 382.69 L113.52 381.53 L115.25 380.38 L116.98 379.26 L118.71 378.16 L120.44 377.07 L122.17 376.01 L123.90 374.96 L125.63 373.93 L127.36 372.92 L129.09 371.93 L130.82 370.95 L132.55 369.99 L134.28 369.04 L136.01 368.11 L137.74 367.19 L139.47 366.28 L141.20 365.39 L142.93 364.51 L144.66 363.65 L146.39 362.79 L148.12 361.95 L149.85 361.12 L151.58 360.30 L153.31 359.49 L155.04 358.69 L156.77 357.91 L158.50 357.13 L160.23 356.36 L161.96 355.60 L163.69 354.85 L165.42 354.11 L167.15 353.38 L168.88 352.66 L170.61 351.95 L172.34 351.24 L174.07 350.55 L175.80 349.86 L177.53 349.18 L179.26 348.50 L180.99 347.84 L182.72 347.18 L184.45 346.53 L186.18 345.88 L187.91 345.24 L189.64 344.61 L191.37 343.99 L193.10 343.37 L194.83 342.75 L196.56 342.15 L198.29 341.55 L200.02 340.95 L201.75 340.36 L203.48 339.78 L205.21 339.20 L206.94 338.63 L208.67 338.07 L210.40 337.50 L212.13 336.95 L213.86 336.40 L215.59 335.85 L217.31 335.31 L219.04 334.77 L220.77 334.24 L222.50 333.71 L224.23 333.19 L225.96 332.67 L227.69 332.16 L229.42 331.65 L231.15 331.15 L232.88 330.64 L234.61 330.15 L236.34 329.65 L238.07 329.17 L239.80 328.68 L241.53 328.20 L243.26 327.72 L244.99 327.25 L246.72 326.78 L248.45 326.31 L250.18 325.85 L251.91 325.39 L253.64 324.94 L255.37 324.48 L257.10 324.03 L258.83 323.59 L260.56 323.15 L262.29 322.71 L264.02 322.27 L265.75 321.84 L267.48 321.41 L269.21 320.98 L270.94 320.56 L272.67 320.14 L274.40 319.72 L276.13 319.30 L277.86 318.89 L279.59 318.48 L281.32 318.07 L283.05 317.67 L284.78 317.27 L286.51 316.87 L288.24 316.47 L289.97 316.08 L291.70 315.69 L293.43 315.30 L295.16 314.91 L296.89 314.53 L298.62 314.15 L300.35 313.77 L302.08 313.39 L303.81 313.02 L305.54 312.65 L307.27 312.28 L309.00 311.91 L310.73 311.55 L312.46 311.18 L314.19 310.82 L315.92 310.46 L317.65 310.11 L319.38 309.75 L321.10 309.40 L322.83 309.05 L324.56 308.70 L326.29 308.36 L328.02 308.01 L329.75 307.67 L331.48 307.33 L333.21 306.99 L334.94 306.65 L336.67 306.32 L338.40 305.98 L340.13 305.65 L341.86 305.32 L343.59 305.00 L345.32 304.67 L347.05 304.35 L348.78 304.02 L350.51 303.70 L352.24 303.38 L353.97 303.07 L355.70 302.75 L357.43 302.44 L359.16 302.13 L360.89 301.81 L362.62 301.51 L364.35 301.20 L366.08 300.89 L367.81 300.59 L369.54 300.28 L371.27 299.98 L373.00 299.68 L374.73 299.38 L376.46 299.09 L378.19 298.79 L379.92 298.50 L381.65 298.20 L383.38 297.91 L385.11 297.62 L386.84 297.33 L388.57 297.05 L390.30 296.76 L392.03 296.48 L393.76 296.19 L395.49 295.91 L397.22 295.63 L398.95 295.35 L400.68 295.07 L402.41 294.80 L404.14 294.52 L405.87 294.25 L407.60 293.97 L409.33 293.70 L411.06 293.43 L412.79 293.16 L414.52 292.89 L416.25 292.63 L417.98 292.36 L419.71 292.10 L421.44 291.83 L423.17 291.57 L424.89 291.31 L426.62 291.05 L428.35 290.79 L430.08 290.53 L431.81 290.28 L433.54 290.02 L435.27 289.77 L437.00 289.51 L438.73 289.26 L440.46 289.01 L442.19 288.76 L443.92 288.51 L445.65 288.26 L447.38 288.01 L449.11 287.77 L450.84 287.52 L452.57 287.28 L454.30 287.03 L456.03 286.79 L457.76 286.55 L459.49 286.31 L461.22 286.07 L462.95 285.83 L464.68 285.59 L466.41 285.36 L468.14 285.12 L469.87 284.89 L471.60 284.65 L473.33 284.42 L475.06 284.19 L476.79 283.96 L478.52 283.72 L480.25 283.50 L481.98 283.27 L483.71 283.04 L485.44 282.81 L487.17 282.59 L488.90 282.36 L490.63 282.14 L492.36 281.91 L494.09 281.69 L495.82 281.47 L497.55 281.25 L499.28 281.03 L501.01 280.81 L502.74 280.59 L504.47 280.37 L506.20 280.15 L507.93 279.94 L509.66 279.72 L511.39 279.51 L513.12 279.29 L514.85 279.08 L516.58 278.87 L518.31 278.65 L520.04 278.44 L521.77 278.23 L523.50 278.02 L525.23 277.81 L526.96 277.61 L528.68 277.40 L530.41 277.19 L532.14 276.98 L533.87 276.78 L535.60 276.57 L537.33 276.37 L539.06 276.17 L540.79 275.96 L542.52 275.76 L544.25 275.56 L545.98 275.36 L547.71 275.16 L549.44 274.96 L551.17 274.76 L552.90 274.56 L554.63 274.37 L556.36 274.17 L558.09 273.97 L559.82 273.78 L561.55 273.58 L563.28 273.39 L565.01 273.20 L566.74 273.00 L568.47 272.81 L570.20 272.62 L571.93 272.43 L573.66 272.24 L575.39 272.05 L577.12 271.86 L578.85 271.67" stroke="#00aa00" stroke-width="3.4" stroke-dasharray="6.55 6.325"/>
<path d="M59.90 446.34 L61.63 443.57 L63.36 440.93 L65.09 438.40 L66.82 435.97 L68.55 433.63 L70.28 431.38 L72.01 429.21 L73.74 427.12 L75.47 425.09 L77.20 423.13 L78.93 421.23 L80.66 419.39 L82.39 417.61 L84.12 415.87 L85.85 414.19 L87.58 412.55 L89.31 410.95 L91.04 409.39 L92.77 407.88 L94.50 406.40 L96.23 404.95 L97.96 403.54 L99.69 402.16 L101.42 400.81 L103.15 399.49 L104.88 398.20 L106.61 396.94 L108.34 395.70 L110.07 394.49 L111.80 393.30 L113.52 392.13 L115.25 390.98 L116.98 389.86 L118.71 388.76 L120.44 387.68 L122.17 386.61 L123.90 385.57 L125.63 384.54 L127.36 383.53 L129.09 382.53 L130.82 381.55 L132.55 380.59 L134.28 379.64 L136.01 378.71 L137.74 377.79 L139.47 376.89 L141.20 375.99 L142.93 375.11 L144.66 374.25 L146.39 373.39 L148.12 372.55 L149.85 371.72 L151.58 370.90 L153.31 370.09 L155.04 369.30 L156.77 368.51 L158.50 367.73 L160.23 366.96 L161.96 366.20 L163.69 365.46 L165.42 364.72 L167.15 363.99 L168.88 363.26 L170.61 362.55 L172.34 361.85 L174.07 361.15 L175.80 360.46 L177.53 359.78 L179.26 359.10 L180.99 358.44 L182.72 357.78 L184.45 357.13 L186.18 356.48 L187.91 355.84 L189.64 355.21 L191.37 354.59 L193.10 353.97 L194.83 353.36 L196.56 352.75 L198.29 352.15 L200.02 351.56 L201.75 350.97 L203.48 350.38 L205.21 349.81 L206.94 349.23 L208.67 348.67 L210.40 348.11 L212.13 347.55 L213.86 347.00 L215.59 346.45 L217.31 345.91 L219.04 345.38 L220.77 344.84 L222.50 344.32 L224.23 343.79 L225.96 343.28 L227.69 342.76 L229.42 342.25 L231.15 341.75 L232.88 341.25 L234.61 340.75 L236.34 340.26 L238.07 339.77 L239.80 339.28 L241.53 338.80 L243.26 338.32 L244.99 337.85 L246.72 337.38 L248.45 336.91 L250.18 336.45 L251.91 335.99 L253.64 335.54 L255.37 335.08 L257.10 334.64 L258.83 334.19 L260.56 333.75 L262.29 333.31 L264.02 332.87 L265.75 332.44 L267.48 332.01 L269.21 331.58 L270.94 331.16 L272.67 330.74 L274.40 330.32 L276.13 329.90 L277.86 329.49 L279.59 329.08 L281.32 328.68 L283.05 328.27 L284.78 327.87 L286.51 327.47 L288.24 327.08 L289.97 326.68 L291.70 326.29 L293.43 325.90 L295.16 325.52 L296.89 325.13 L298.62 324.75 L300.35 324.37 L302.08 324.00 L303.81 323.62 L305.54 323.25 L307.27 322.88 L309.00 322.51 L310.73 322.15 L312.46 321.79 L314.19 321.42 L315.92 321.07 L317.65 320.71 L319.38 320.35 L321.10 320.00 L322.83 319.65 L324.56 319.30 L326.29 318.96 L328.02 318.61 L329.75 318.27 L331.48 317.93 L333.21 317.59 L334.94 317.25 L336.67 316.92 L338.40 316.59 L340.13 316.26 L341.86 315.93 L343.59 315.60 L345.32 315.27 L347.05 314.95 L348.78 314.63 L350.51 314.31 L352.24 313.99 L353.97 313.67 L355.70 313.35 L357.43 313.04 L359.16 312.73 L360.89 312.42 L362.62 312.11 L364.35 311.80 L366.08 311.49 L367.81 311.19 L369.54 310.89 L371.27 310.58 L373.00 310.28 L374.73 309.99 L376.46 309.69 L378.19 309.39 L379.92 309.10 L381.65 308.81 L383.38 308.51 L385.11 308.22 L386.84 307.94 L388.57 307.65 L390.30 307.36 L392.03 307.08 L393.76 306.80 L395.49 306.51 L397.22 306.23 L398.95 305.95 L400.68 305.68 L402.41 305.40 L404.14 305.12 L405.87 304.85 L407.60 304.58 L409.33 304.30 L411.06 304.03 L412.79 303.76 L414.52 303.50 L416.25 303.23 L417.98 302.96 L419.71 302.70 L421.44 302.44 L423.17 302.17 L424.89 301.91 L426.62 301.65 L428.35 301.39 L430.08 301.13 L431.81 300.88 L433.54 300.62 L435.27 300.37 L437.00 300.11 L438.73 299.86 L440.46 299.61 L442.19 299.36 L443.92 299.11 L445.65 298.86 L447.38 298.61 L449.11 298.37 L450.84 298.12 L452.57 297.88 L454.30 297.64 L456.03 297.39 L457.76 297.15 L459.49 296.91 L461.22 296.67 L462.95 296.43 L464.68 296.20 L466.41 295.96 L468.14 295.72 L469.87 295.49 L471.60 295.25 L473.33 295.02 L475.06 294.79 L476.79 294.56 L478.52 294.33 L480.25 294.10 L481.98 293.87 L483.71 293.64 L485.44 293.41 L487.17 293.19 L488.90 292.96 L490.63 292.74 L492.36 292.51 L494.09 292.29 L495.82 292.07 L497.55 291.85 L499.28 291.63 L501.01 291.41 L502.74 291.19 L504.47 290.97 L506.20 290.75 L507.93 290.54 L509.66 290.32 L511.39 290.11 L513.12 289.89 L514.85 289.68 L516.58 289.47 L518.31 289.26 L520.04 289.04 L521.77 288.83 L523.50 288.62 L525.23 288.42 L526.96 288.21 L528.68 288.00 L530.41 287.79 L532.14 287.59 L533.87 287.38 L535.60 287.18 L537.33 286.97 L539.06 286.77 L540.79 286.57 L542.52 286.36 L544.25 286.16 L545.98 285.96 L547.71 285.76 L549.44 285.56 L551.17 285.36 L552.90 285.17 L554.63 284.97 L556.36 284.77 L558.09 284.58 L559.82 284.38 L561.55 284.19 L563.28 283.99 L565.01 283.80 L566.74 283.60 L568.47 283.41 L570.20 283.22 L571.93 283.03 L573.66 282.84 L575.39 282.65 L577.12 282.46 L578.85 282.27" stroke="#00aa00" stroke-width="3.4" stroke-dasharray="1.8 6.246"/>
</g>
<path d="M59.90 321.20v-3.80M59.90 0.35v3.80M78.43 321.20v-3.80M78.43 0.35v3.80M96.97 321.20v-6.50M96.97 0.35v6.50M115.50 321.20v-3.80M115.50 0.35v3.80M134.04 321.20v-3.80M134.04 0.35v3.80M152.57 321.20v-3.80M152.57 0.35v3.80M171.10 321.20v-6.50M171.10 0.35v6.50M189.64 321.20v-3.80M189.64 0.35v3.80M208.17 321.20v-3.80M208.17 0.35v3.80M226.71 321.20v-3.80M226.71 0.35v3.80M245.24 321.20v-6.50M245.24 0.35v6.50M263.77 321.20v-3.80M263.77 0.35v3.80M282.31 321.20v-3.80M282.31 0.35v3.80M300.84 321.20v-3.80M300.84 0.35v3.80M319.38 321.20v-6.50M319.38 0.35v6.50M337.91 321.20v-3.80M337.91 0.35v3.80M356.44 321.20v-3.80M356.44 0.35v3.80M374.98 321.20v-3.80M374.98 0.35v3.80M393.51 321.20v-6.50M393.51 0.35v6.50M412.04 321.20v-3.80M412.04 0.35v3.80M430.58 321.20v-3.80M430.58 0.35v3.80M449.11 321.20v-3.80M449.11 0.35v3.80M467.65 321.20v-6.50M467.65 0.35v6.50M486.18 321.20v-3.80M486.18 0.35v3.80M504.71 321.20v-3.80M504.71 0.35v3.80M523.25 321.20v-3.80M523.25 0.35v3.80M541.78 321.20v-6.50M541.78 0.35v6.50M560.32 321.20v-3.80M560.32 0.35v3.80M578.85 321.20v-3.80M578.85 0.35v3.80M59.90 7.33h3.80M578.85 7.33h-3.80M59.90 21.28h3.80M578.85 21.28h-3.80M59.90 35.23h3.80M578.85 35.23h-3.80M59.90 49.18h3.80M578.85 49.18h-3.80M59.90 63.13h6.50M578.85 63.13h-6.50M59.90 77.08h3.80M578.85 77.08h-3.80M59.90 91.03h3.80M578.85 91.03h-3.80M59.90 104.97h3.80M578.85 104.97h-3.80M59.90 118.93h3.80M578.85 118.93h-3.80M59.90 132.88h6.50M578.85 132.88h-6.50M59.90 146.83h3.80M578.85 146.83h-3.80M59.90 160.78h3.80M578.85 160.78h-3.80M59.90 174.72h3.80M578.85 174.72h-3.80M59.90 188.68h3.80M578.85 188.68h-3.80M59.90 202.63h6.50M578.85 202.63h-6.50M59.90 216.57h3.80M578.85 216.57h-3.80M59.90 230.53h3.80M578.85 230.53h-3.80M59.90 244.47h3.80M578.85 244.47h-3.80M59.90 258.43h3.80M578.85 258.43h-3.80M59.90 272.38h6.50M578.85 272.38h-6.50M59.90 286.32h3.80M578.85 286.32h-3.80M59.90 300.28h3.80M578.85 300.28h-3.80M59.90 314.23h3.80M578.85 314.23h-3.80" stroke="#4a4a4a" stroke-width="0.8" fill="none"/>
<rect x="59.7" y="0.5" width="519.05" height="320.5" fill="none" stroke="#808080" stroke-width="1.1"/>
<text class="tk" x="96.97" y="344.7" text-anchor="middle">20</text>
<text class="tk" x="171.10" y="344.7" text-anchor="middle">40</text>
<text class="tk" x="245.24" y="344.7" text-anchor="middle">60</text>
<text class="tk" x="319.38" y="344.7" text-anchor="middle">80</text>
<text class="tk" x="393.51" y="344.7" text-anchor="middle">100</text>
<text class="tk" x="467.65" y="344.7" text-anchor="middle">120</text>
<text class="tk" x="541.78" y="344.7" text-anchor="middle">140</text>
<text class="tk" x="54.5" y="70.13" text-anchor="end">−6</text>
<text class="tk" x="54.5" y="139.88" text-anchor="end">−7</text>
<text class="tk" x="54.5" y="209.63" text-anchor="end">−8</text>
<text class="tk" x="54.5" y="279.38" text-anchor="end">−9</text>
<g transform="translate(17.3,186.5) rotate(-90)"><text x="0" y="0" font-size="17.8">log</text><text x="22.6" y="5.0" font-size="13.2" textLength="13.2" lengthAdjust="spacingAndGlyphs">10</text><text x="40.4" y="0" font-size="18" class="it" textLength="10.6" lengthAdjust="spacingAndGlyphs">η</text></g>
<text x="286" y="378.4" font-size="18" class="it">v</text><text x="295" y="381.2" font-size="13.6" class="it">c</text><text x="307.6" y="378.4" font-size="17.8" textLength="44.6" lengthAdjust="spacingAndGlyphs">[GeV]</text>
<rect x="68.2" y="10.4" width="66.4" height="133.8" rx="8" ry="8" fill="#fff" stroke="#000" stroke-width="2.4"/>
<text x="84" y="34.8" font-size="19.5"><tspan class="it">v</tspan><tspan font-size="13.5" dy="2.8" dx="0.8">wall</tspan></text>
<line x1="72.3" y1="60.5" x2="95.1" y2="60.5" stroke="#000" stroke-width="2.8"/>
<line x1="73.7" y1="91.1" x2="93.0" y2="91.1" stroke="#000" stroke-width="2.8" stroke-dasharray="6.9 5.5"/>
<line x1="73.4" y1="122.1" x2="93.0" y2="122.1" stroke="#000" stroke-width="2.8" stroke-dasharray="2.4 5.6"/>
<text x="101" y="65.4" font-size="18.6">0.4</text>
<text x="101" y="96.1" font-size="18.6">0.7</text>
<text x="101" y="126.9" font-size="18.6">1</text>
<rect x="407.1" y="11.6" width="158.1" height="45.5" rx="8" ry="8" fill="#fff" stroke="#000" stroke-width="2.4"/>
<g font-size="17.5"><text class="it" x="416.6" y="41.7" font-size="18">c</text><path d="M418.3 31.2c1.1-1.8 2.1-1.6 3-0.8s1.8 0.9 2.9-0.9" fill="none" stroke="#000" stroke-width="0.9"/><text x="424.2" y="44.6" font-size="13">2</text><path d="M433.9 28.2V46M463.2 28.2V46" stroke="#000" stroke-width="0.9"/><text class="it" x="438.0" y="41.7" font-size="17" textLength="14.2" lengthAdjust="spacingAndGlyphs">H</text><text x="452.9" y="44.6" font-size="13">2</text><text x="466" y="35.3" font-size="13">2</text><g transform="translate(473.1,41.9)" fill="none" stroke="#000" stroke-linecap="butt"><path d="M0 -11.1H6.8M17.4 -11.1H21.6" stroke-width="0.8"/><path d="M3.3 -11.1L5.6 -0.2M11.6 -11.1L13.6 -0.2" stroke-width="1.75"/><path d="M5.5 0L12.3 -11M13.5 0L20.3 -11" stroke-width="0.9"/></g><text class="it" x="493.4" y="33.8" font-size="13">a</text><text class="it" x="491.5" y="46.8" font-size="13" textLength="15.2" lengthAdjust="spacingAndGlyphs">μν</text><g transform="translate(508.9,41.9)" fill="none" stroke="#000" stroke-linecap="butt"><path d="M0 -11.1H6.8M17.4 -11.1H21.6" stroke-width="0.8"/><path d="M3.3 -11.1L5.6 -0.2M11.6 -11.1L13.6 -0.2" stroke-width="1.75"/><path d="M5.5 0L12.3 -11M13.5 0L20.3 -11" stroke-width="0.9"/></g><path d="M509.6 24c1.6-1.7 3.4-2.4 5.4-2.1c2.4 0.4 4.2 1.8 6.6 2c2.2 0.2 4.2-0.6 6.2-2" fill="none" stroke="#000" stroke-width="0.85"/><text class="it" x="529.3" y="35.3" font-size="13" textLength="25.4" lengthAdjust="spacingAndGlyphs">a,μν</text></g>
<g transform="translate(291.2,107.6) rotate(-10.6)"><text x="-0.6" y="0.0" font-size="18.5" class="it">c</text><path d="M1.7 -10.7c1.2-1.9 2.3-1.7 3.3-0.8s2 0.9 3.2-1" fill="none" stroke="#000" stroke-width="0.9"/><text x="7.6" y="3.0" font-size="13.0">2</text><text x="20.2" y="0.6" font-size="18.5" textLength="14.4" lengthAdjust="spacingAndGlyphs">=</text><text x="41.0" y="0.0" font-size="18.5" textLength="17.6" lengthAdjust="spacingAndGlyphs">10</text><text x="59.7" y="-7.0" font-size="13.0" textLength="15.0" lengthAdjust="spacingAndGlyphs">−2</text><text x="84.8" y="0.0" font-size="18.5" textLength="31.4" lengthAdjust="spacingAndGlyphs">TeV</text><text x="116.6" y="-7.0" font-size="13.0" textLength="15.2" lengthAdjust="spacingAndGlyphs">−2</text></g>
<g transform="translate(350.2,193.3) rotate(-9.8)"><text x="-0.6" y="0.0" font-size="18.5" class="it">c</text><path d="M1.7 -10.7c1.2-1.9 2.3-1.7 3.3-0.8s2 0.9 3.2-1" fill="none" stroke="#000" stroke-width="0.9"/><text x="7.6" y="3.0" font-size="13.0">2</text><text x="20.2" y="0.6" font-size="18.5" textLength="14.4" lengthAdjust="spacingAndGlyphs">=</text><text x="40.2" y="0.0" font-size="18.5" textLength="28.6" lengthAdjust="spacingAndGlyphs">400</text><text x="75.1" y="0.0" font-size="18.5" textLength="30.2" lengthAdjust="spacingAndGlyphs">PeV</text><text x="107.0" y="-7.0" font-size="13.0" textLength="16.0" lengthAdjust="spacingAndGlyphs">−2</text></g>
<g transform="translate(418.0,267.4) rotate(-8.5)"><text x="-0.6" y="0.0" font-size="18.5" class="it">c</text><path d="M1.7 -10.7c1.2-1.9 2.3-1.7 3.3-0.8s2 0.9 3.2-1" fill="none" stroke="#000" stroke-width="0.9"/><text x="7.6" y="3.0" font-size="13.0">2</text><text x="20.2" y="0.6" font-size="18.5" textLength="14.4" lengthAdjust="spacingAndGlyphs">=</text><text x="40.2" y="0.0" font-size="18.5" textLength="18.4" lengthAdjust="spacingAndGlyphs">25</text><text x="65.3" y="0.0" font-size="18.5" textLength="30.4" lengthAdjust="spacingAndGlyphs">PeV</text><text x="97.4" y="-7.0" font-size="13.0" textLength="16.0" lengthAdjust="spacingAndGlyphs">−2</text></g>
<text x="250.6" y="281.4" font-size="18.5" class="it">η</text><text x="259.8" y="283" font-size="13.2" textLength="16.6" lengthAdjust="spacingAndGlyphs">ref</text>
</svg></body></html>
